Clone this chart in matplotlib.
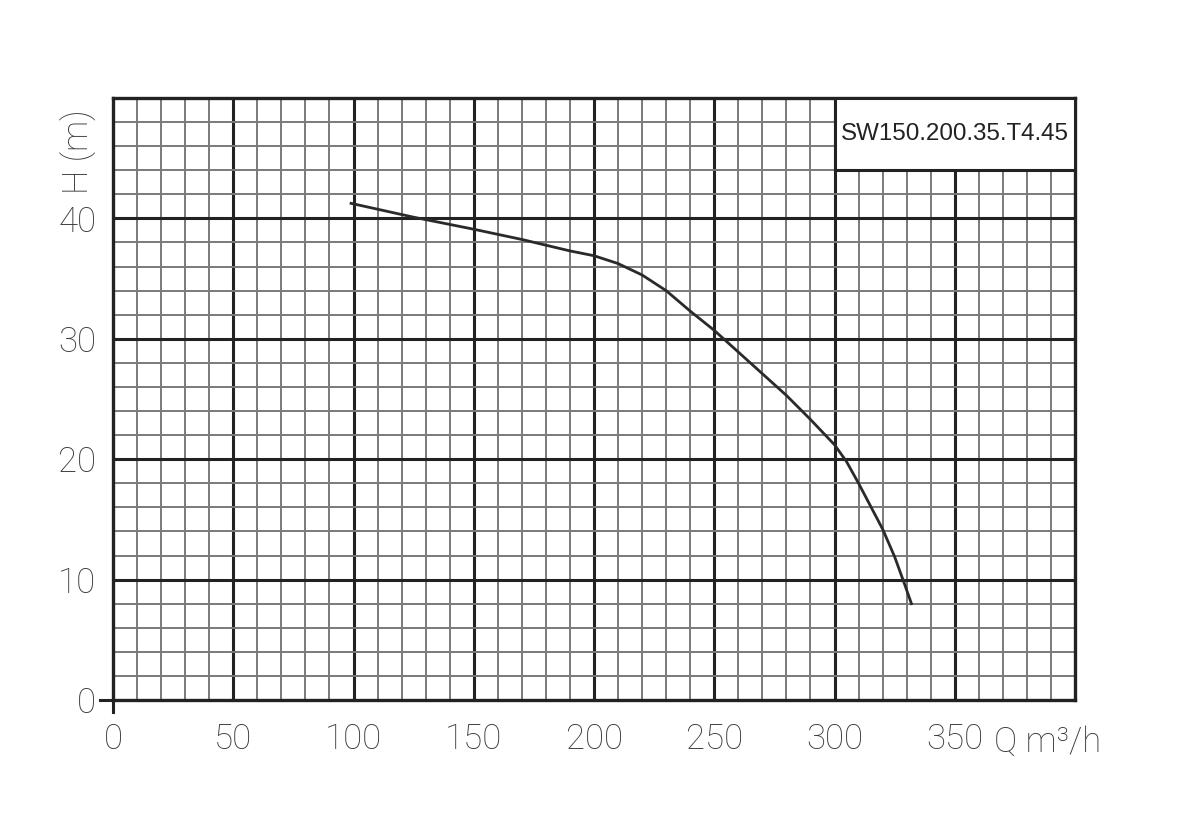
import matplotlib.pyplot as plt
from matplotlib.patches import Rectangle

# pump curve
flow = [99, 125, 150, 170, 190, 200, 210, 220, 230, 240, 250, 260, 270, 280,
        290, 300, 305, 310, 315, 320, 325, 329, 332]
head = [41.25, 40.1, 39.1, 38.25, 37.3, 36.9, 36.25, 35.3, 34.0, 32.3, 30.7, 28.9, 27.1, 25.3,
        23.3, 21.2, 19.8, 18.0, 16.1, 14.2, 11.9, 9.7, 8.0]

x_ticks = [0, 50, 100, 150, 200, 250, 300, 350]
y_ticks = [0, 10, 20, 30, 40]
model = 'SW150.200.35.T4.45'

label_font = dict(family=['Roboto', 'DejaVu Sans'], fontweight='light', color='#3a3a3a', fontsize=25)

fig = plt.figure(figsize=(12, 8.32), dpi=100)
ax = fig.add_axes([113 / 1200, 1 - 700 / 832, 962 / 1200, 602 / 832])
ax.set_xlim(0, 400)
ax.set_ylim(0, 50)

# grid paper
for v in range(10, 400, 10):
    major = v % 50 == 0
    ax.axvline(v, color='#222222' if major else '#7a7a7a', lw=2.2 if major else 1.4, zorder=1)
for h in range(2, 50, 2):
    major = h % 10 == 0
    ax.axhline(h, color='#222222' if major else '#7a7a7a', lw=2.2 if major else 1.4, zorder=1)

for s in ax.spines.values():
    s.set_linewidth(2.4)
    s.set_color('#222222')

# model label box
ax.add_patch(Rectangle((300, 44), 100, 6, facecolor='white', edgecolor='#222222', lw=2.2, zorder=3))
ax.text(350, 47, model, ha='center', va='center', fontsize=17.4,
        family=['Liberation Sans', 'DejaVu Sans'], color='#222222', zorder=4)

ax.plot(flow, head, color='#2a2a2a', lw=2, zorder=2, solid_joinstyle='round')

ax.set_xticks(x_ticks)
ax.set_xticklabels([str(t) for t in x_ticks], **label_font)
ax.set_yticks(y_ticks)
ax.set_yticklabels([str(t) for t in y_ticks], **label_font)
ax.tick_params(length=0)
ax.tick_params(axis='x', pad=16)
ax.tick_params(axis='y', pad=12)

# little ticks at the origin
ax.plot([-5.5, 0], [0, 0], color='#222222', lw=2.2, clip_on=False)
ax.plot([0, 0], [0, -1.0], color='#222222', lw=2.2, clip_on=False)

fig.text(1048 / 1200, 1 - 742 / 832, 'Q m³/h', ha='center', va='center', **label_font)
fig.text(79 / 1200, 1 - 152 / 832, 'H (m)', rotation=90, ha='center', va='center', **label_font)

fig.savefig('out.png', dpi=100, facecolor='white')
